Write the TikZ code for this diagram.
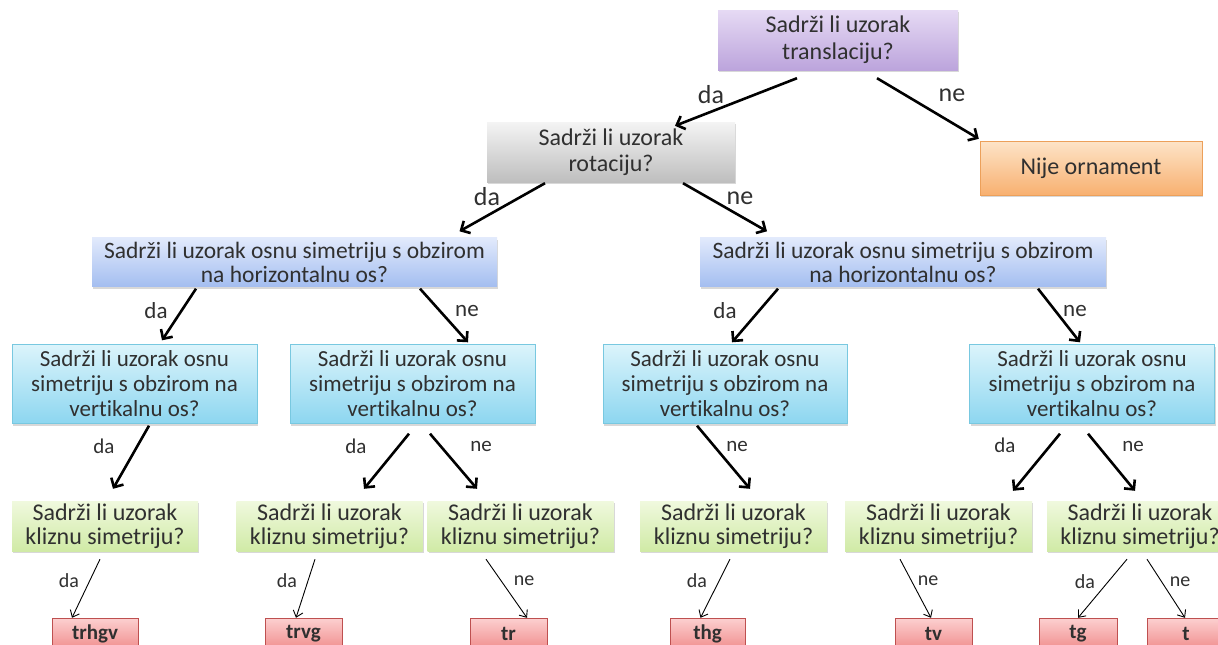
\documentclass[tikz,border=0pt]{standalone}
\usepackage{fontspec}
\setmainfont{Carlito}[Ligatures=NoCommon]
\usetikzlibrary{shadows,arrows.meta}
\definecolor{txt}{HTML}{303030}
\tikzset{
  box/.style={rectangle, inner sep=0pt, align=center, text=txt,
    drop shadow={shadow xshift=1pt, shadow yshift=-2pt, opacity=0.25, fill=black!60}},
  purplebox/.style={box, top color={rgb,255:red,230;green,218;blue,244}, bottom color={rgb,255:red,188;green,164;blue,220}, font=\fontsize{24}{27}\selectfont},
  graybox/.style={box, top color={rgb,255:red,244;green,244;blue,244}, bottom color={rgb,255:red,190;green,190;blue,190}, font=\fontsize{24}{26}\selectfont},
  orangebox/.style={box, draw={rgb,255:red,236;green,160;blue,90}, top color={rgb,255:red,253;green,228;blue,200}, bottom color={rgb,255:red,248;green,176;blue,112}, font=\fontsize{24}{26}\selectfont},
  bluebox/.style={box, top color={rgb,255:red,226;green,234;blue,252}, bottom color={rgb,255:red,164;green,190;blue,240}, font=\fontsize{23.5}{24}\selectfont},
  cyanbox/.style={box, draw={rgb,255:red,120;green,200;blue,224}, top color={rgb,255:red,220;green,244;blue,251}, bottom color={rgb,255:red,140;green,214;blue,240}, font=\fontsize{23}{25}\selectfont},
  greenbox/.style={box, top color={rgb,255:red,240;green,249;blue,222}, bottom color={rgb,255:red,208;green,234;blue,166}, font=\fontsize{24}{24}\selectfont},
  redbox/.style={box, draw={rgb,255:red,190;green,80;blue,80}, top color={rgb,255:red,252;green,208;blue,208}, bottom color={rgb,255:red,240;green,140;blue,140}, font=\fontsize{21}{22}\selectfont\bfseries},
  bigarrow/.style={-{Straight Barb[length=7pt,width=14pt]}, line width=2.6pt, black},
  thinarrow/.style={-{Straight Barb[length=6pt,width=10pt]}, line width=0.9pt, black},
  lab/.style={text=txt, inner sep=0pt},
  labA/.style={lab, font=\fontsize{26}{26}\selectfont},
  labB/.style={lab, font=\fontsize{23}{23}\selectfont},
  labC/.style={lab, font=\fontsize{21}{21}\selectfont},
  labD/.style={lab, font=\fontsize{20}{20}\selectfont},
}
\begin{document}
\begin{tikzpicture}[x=1pt,y=-1pt]
\clip (0,0) rectangle (1218,645);
\fill[white] (0,0) rectangle (1218,645);
% level 1
\node[purplebox, minimum width=240pt, minimum height=60pt] (P) at (838,40) {Sadrži li uzorak\\translaciju?};
% level 2
\node[graybox, minimum width=248pt, minimum height=60pt] (G) at (611,152) {Sadrži li uzorak\\rotaciju?};
\node[orangebox, minimum width=222pt, minimum height=54pt] (O) at (1091,168) {Nije ornament};
% level 3
\node[bluebox, minimum width=405pt, minimum height=49pt] (BL) at (294.5,262) {Sadrži li uzorak osnu simetriju s obzirom\\na horizontalnu os?};
\node[bluebox, minimum width=406pt, minimum height=49pt] (BR) at (903,262) {Sadrži li uzorak osnu simetriju s obzirom\\na horizontalnu os?};
% level 4
\node[cyanbox, minimum width=245pt, minimum height=79pt] (C1) at (134.5,384) {Sadrži li uzorak osnu\\simetriju s obzirom na\\vertikalnu os?};
\node[cyanbox, minimum width=245pt, minimum height=79pt] (C2) at (412.5,384) {Sadrži li uzorak osnu\\simetriju s obzirom na\\vertikalnu os?};
\node[cyanbox, minimum width=244pt, minimum height=79pt] (C3) at (725,384) {Sadrži li uzorak osnu\\simetriju s obzirom na\\vertikalnu os?};
\node[cyanbox, minimum width=245pt, minimum height=79pt] (C4) at (1092,384) {Sadrži li uzorak osnu\\simetriju s obzirom na\\vertikalnu os?};
% level 5
\node[greenbox, minimum width=186pt, minimum height=50pt] (N1) at (105,526) {Sadrži li uzorak\\kliznu simetriju?};
\node[greenbox, minimum width=186pt, minimum height=50pt] (N2) at (329.5,526) {Sadrži li uzorak\\kliznu simetriju?};
\node[greenbox, minimum width=186pt, minimum height=50pt] (N3) at (520.5,526) {Sadrži li uzorak\\kliznu simetriju?};
\node[greenbox, minimum width=187pt, minimum height=50pt] (N4) at (733.5,526) {Sadrži li uzorak\\kliznu simetriju?};
\node[greenbox, minimum width=187pt, minimum height=50pt] (N5) at (938.5,526) {Sadrži li uzorak\\kliznu simetriju?};
\node[greenbox, minimum width=186pt, minimum height=50pt] (N6) at (1140,526) {Sadrži li uzorak\\kliznu simetriju?};
% level 6
\node[redbox, minimum width=86pt, minimum height=32pt] (R1) at (95,634) {trhgv};
\node[redbox, minimum width=77pt, minimum height=32pt] (R2) at (303.5,634) {trvg};
\node[redbox, minimum width=77pt, minimum height=32pt] (R3) at (508.5,634) {tr};
\node[redbox, minimum width=75pt, minimum height=32pt] (R4) at (707.5,634) {thg};
\node[redbox, minimum width=77pt, minimum height=32pt] (R5) at (933.5,634) {tv};
\node[redbox, minimum width=78pt, minimum height=32pt] (R6) at (1078,634) {tg};
\node[redbox, minimum width=78pt, minimum height=32pt] (R7) at (1186,634) {t};
% big arrows
\draw[bigarrow] ([xshift=-41pt,yshift=-8pt]P.south) -- ([xshift=64pt,yshift=-4pt]G.north);
\draw[bigarrow] ([xshift=39pt,yshift=-8pt]P.south) -- ([xshift=-1pt,yshift=2pt]O.north west);
\draw[bigarrow] ([xshift=-66pt,yshift=-1pt]G.south) -- ([xshift=165pt,yshift=6pt]BL.north);
\draw[bigarrow] ([xshift=72pt,yshift=-1pt]G.south) -- ([xshift=-136pt,yshift=6pt]BR.north);
\draw[bigarrow] ([xshift=-98.5pt,yshift=-2pt]BL.south) -- ([xshift=27.5pt,yshift=4pt]C1.north);
\draw[bigarrow] ([xshift=125.5pt,yshift=-2pt]BL.south) -- ([xshift=55.5pt,yshift=2pt]C2.north);
\draw[bigarrow] ([xshift=-125pt,yshift=-2pt]BR.south) -- ([xshift=7pt,yshift=2pt]C3.north);
\draw[bigarrow] ([xshift=135pt,yshift=-2pt]BR.south) -- ([xshift=-12pt,yshift=2pt]C4.north);
\draw[bigarrow] ([xshift=14.5pt,yshift=-2pt]C1.south) -- ([xshift=8pt,yshift=12pt]N1.north);
\draw[bigarrow] ([xshift=-3.5pt,yshift=-10pt]C2.south) -- ([xshift=34.5pt,yshift=12pt]N2.north);
\draw[bigarrow] ([xshift=17.5pt,yshift=-10pt]C2.south) -- ([xshift=-43.5pt,yshift=12pt]N3.north);
\draw[bigarrow] ([xshift=-28pt,yshift=-2pt]C3.south) -- ([xshift=16.5pt,yshift=12pt]N4.north);
\draw[bigarrow] ([xshift=-32pt,yshift=-10pt]C4.south) -- ([xshift=74.5pt,yshift=10pt]N5.north);
\draw[bigarrow] ([xshift=-4pt,yshift=-10pt]C4.south) -- ([xshift=-5pt,yshift=10pt]N6.north);
% thin arrows
\draw[thinarrow] ([xshift=-5pt,yshift=-8pt]N1.south) -- ([xshift=-23pt]R1.north);
\draw[thinarrow] ([xshift=-14.5pt,yshift=-8pt]N2.south) -- ([xshift=-7.5pt]R2.north);
\draw[thinarrow] ([xshift=-34.5pt,yshift=-8pt]N3.south) -- ([xshift=18.5pt]R3.north);
\draw[thinarrow] ([xshift=-3.5pt,yshift=-8pt]N4.south) -- ([xshift=-7pt]R4.north);
\draw[thinarrow] ([xshift=-38.5pt,yshift=-8pt]N5.south) -- ([xshift=-2.5pt]R5.north);
\draw[thinarrow] ([xshift=-13pt,yshift=-8pt]N6.south) -- (R6.north);
\draw[thinarrow] ([xshift=7pt,yshift=-8pt]N6.south) -- ([xshift=-1pt]R7.north);
% labels
\node[labA] (l1) at (711,95) {da};
\node[labA] (l2) at (952,95) {ne};
\node[labA] (l3) at (487,197) {da};
\node[labA] (l4) at (740,198) {ne};
\node[labB] (l5) at (156,311) {da};
\node[labB] (l6) at (467,311) {ne};
\node[labB] (l7) at (725,311) {da};
\node[labB] (l8) at (1075,311) {ne};
\node[labC] (l9) at (104,446) {da};
\node[labC] (l10) at (356,446) {da};
\node[labC] (l11) at (481,446) {ne};
\node[labC] (l12) at (737,446) {ne};
\node[labC] (l13) at (1005,445) {da};
\node[labC] (l14) at (1133,446) {ne};
\node[labD] (l15) at (69,581) {da};
\node[labD] (l16) at (287,581) {da};
\node[labD] (l17) at (524,581) {ne};
\node[labD] (l18) at (697,581) {da};
\node[labD] (l19) at (928,581) {ne};
\node[labD] (l20) at (1085,582) {da};
\node[labD] (l21) at (1180,582) {ne};
\end{tikzpicture}
\end{document}
